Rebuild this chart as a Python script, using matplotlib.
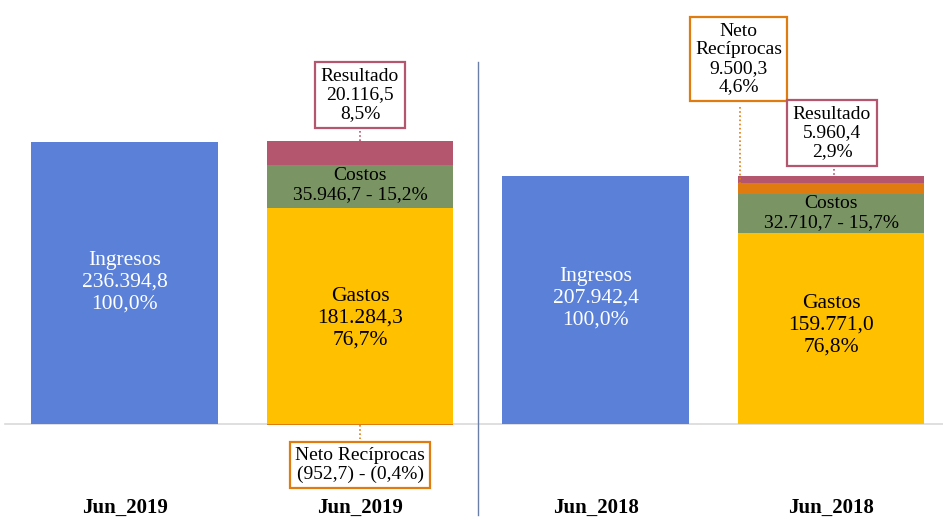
import numpy as np
import matplotlib.pyplot as plt

plt.rcParams['font.family'] = ['Liberation Serif', 'DejaVu Serif']

# data (millions)
categories = ["Jun_2019", "Jun_2019", "Jun_2018", "Jun_2018"]
ingresos = [236394.8, 207942.4]
gastos = [181284.3, 159771.0]
costos = [35946.7, 32710.7]
neto_reciprocas = [-952.7, 9500.3]
resultado = [20116.5, 5960.4]

gastos_pct = ["76,7%", "76,8%"]
costos_pct = ["15,2%", "15,7%"]
neto_pct = ["(0,4%)", "4,6%"]
resultado_pct = ["8,5%", "2,9%"]

C_BLUE = "#5A80D8"
C_YELLOW = "#FFC000"
C_GREEN = "#7A9464"
C_ORANGE = "#E07B10"
C_PINK = "#B5566F"

SCALE = 282 / 236394.8  # px per unit


def py(ypix):
    # pixel row -> data value
    return (424 - ypix) / SCALE


def px(xp):
    return (xp - 124.5) / 235.5


def fmt(v):
    s = f"{abs(v):,.1f}".replace(",", "X").replace(".", ",").replace("X", ".")
    return f"({s})" if v < 0 else s


fig = plt.figure(figsize=(9.43, 5.2), dpi=100)
ax = fig.add_axes([0, 0, 1, 1])
ax.axis('off')
ax.set_xlim(px(0), px(943))
ax.set_ylim(py(520), py(0))

w = 0.79
x_ing = [0, 2]
x_stk = [1, 3]

ax.bar(x_ing, ingresos, width=w, color=C_BLUE)
for i, x in enumerate(x_stk):
    neg = neto_reciprocas[i] < 0
    # negative values go below the axis
    if neg:
        ax.bar(x, neto_reciprocas[i], width=w, color=C_ORANGE)
    ax.bar(x, gastos[i], width=w, color=C_YELLOW)
    bottom = gastos[i]
    ax.bar(x, costos[i], bottom=bottom, width=w, color=C_GREEN)
    bottom += costos[i]
    if not neg:
        ax.bar(x, neto_reciprocas[i], bottom=bottom, width=w, color=C_ORANGE)
        bottom += neto_reciprocas[i]
    ax.bar(x, resultado[i], bottom=bottom, width=w, color=C_PINK)

ax.axhline(0, xmin=5 / 943, color="#D9D9D9", lw=1.2, zorder=0)
ax.plot([1.5, 1.5], [py(62), py(515)], color="#6A7FA8", lw=1)

# in-bar labels
ax.text(0, py(282), f"Ingresos\n{fmt(ingresos[0])}\n100,0%", ha='center', va='center',
        color='white', fontsize=15.5, linespacing=1.2)
ax.text(2, py(298), f"Ingresos\n{fmt(ingresos[1])}\n100,0%", ha='center', va='center',
        color='white', fontsize=15.5, linespacing=1.2)
ax.text(1, py(318), f"Gastos\n{fmt(gastos[0])}\n{gastos_pct[0]}", ha='center', va='center',
        fontsize=15.5, linespacing=1.2)
ax.text(3, py(325), f"Gastos\n{fmt(gastos[1])}\n{gastos_pct[1]}", ha='center', va='center',
        fontsize=15.5, linespacing=1.2)
ax.text(1, py(185), f"Costos\n{fmt(costos[0])} - {costos_pct[0]}", ha='center', va='center',
        fontsize=14, linespacing=1.1)
ax.text(3, py(213), f"Costos\n{fmt(costos[1])} - {costos_pct[1]}", ha='center', va='center',
        fontsize=14, linespacing=1.1)


def callout(xc, yc, txt, color, line_x, y0, y1):
    ax.text(xc, py(yc), txt, ha='center', va='center', fontsize=14, linespacing=1.12,
            bbox=dict(boxstyle='square,pad=0.28', fc='white', ec=color, lw=1.6))
    ax.plot([line_x, line_x], [py(y0), py(y1)], color=color, lw=1.2, ls=(0, (1, 1.5)))


callout(1, 95, f"Resultado\n{fmt(resultado[0])}\n{resultado_pct[0]}", C_PINK, 1, 131, 141)
callout(1, 465, f"Neto Recíprocas\n{fmt(neto_reciprocas[0])} - {neto_pct[0]}", C_ORANGE,
        1, 425, 439)
callout(px(738.5), 59, f"Neto\nRecíprocas\n{fmt(neto_reciprocas[1])}\n{neto_pct[1]}",
        C_ORANGE, px(740), 107, 188)
callout(px(832), 133, f"Resultado\n{fmt(resultado[1])}\n{resultado_pct[1]}", C_PINK,
        px(834), 169, 176)

for i, lab in enumerate(categories):
    ax.text(i, py(508), lab, ha='center', va='center', fontsize=15, fontweight='bold')

fig.savefig("out.png", dpi=100)
